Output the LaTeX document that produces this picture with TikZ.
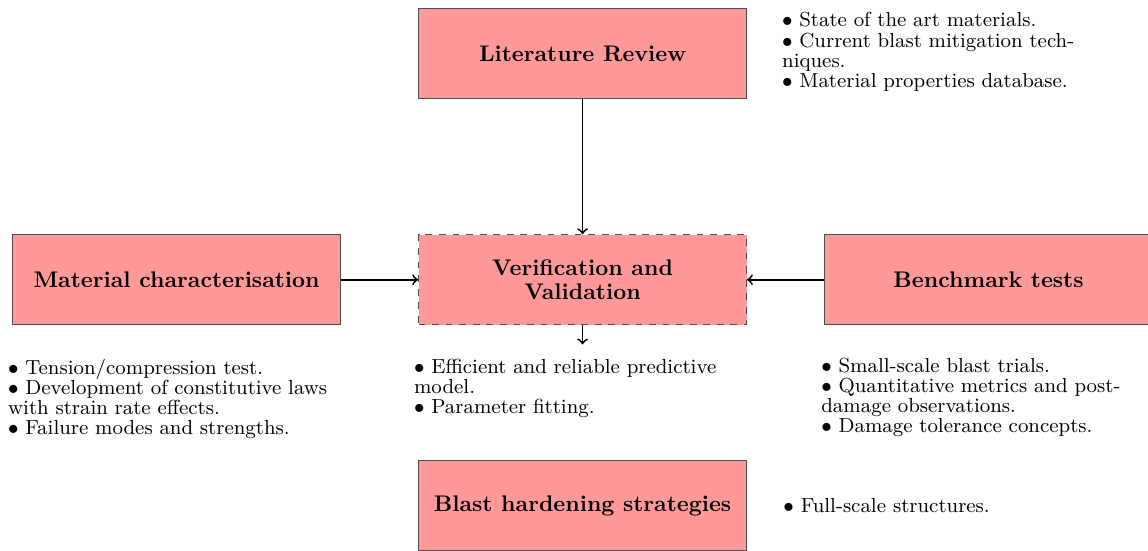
\documentclass[tikz,border=0pt]{standalone}
\usepackage{amsmath,amssymb}
\usepackage{xcolor}
\usepackage{tikz}
\usetikzlibrary{positioning}

\begin{document}
\begin{tikzpicture}[
  box/.style={draw=black!70,fill=red!40,minimum width=5.1cm,minimum height=1.4cm,align=center,font=\fontsize{10}{11}\selectfont\bfseries},
  bullets/.style={inner sep=0pt,text width=5.1cm,align=left,anchor=north west,font=\fontsize{9}{8.9}\selectfont}
]
\useasboundingbox (0,0) rectangle (17.854,-8.554);
\clip (0,0) rectangle (17.854,-8.554);

% Boxes
\node[box,dashed] (vv) at (9.06,-4.35) {Verification and\\Validation};
\node[box,above=2.1cm of vv] (lit) {Literature Review};
\node[box,left=1.2cm of vv] (mat) {Material characterisation};
\node[box,right=1.2cm of vv] (bench) {Benchmark tests};
\node[box,below=2.1cm of vv] (blast) {Blast hardening strategies};

% Bullet lists
\node[bullets] (littext) at ([xshift=0.54cm,yshift=-0.06cm]lit.north east)
  {$\bullet$ State of the art materials.\\ $\bullet$ Current blast mitigation techniques.\\ $\bullet$ Material properties database.};
\node[bullets] (mattext) at ([xshift=-0.07cm,yshift=-0.52cm]mat.south west)
  {$\bullet$ Tension/compression test.\\ $\bullet$ Development of constitutive laws with strain rate effects.\\ $\bullet$ Failure modes and strengths.};
\node[bullets] (vvtext) at ([xshift=-0.07cm,yshift=-0.52cm]vv.south west)
  {$\bullet$ Efficient and reliable predictive model.\\ $\bullet$ Parameter fitting.};
\node[bullets] (benchtext) at ([xshift=-0.05cm,yshift=-0.5cm]bench.south west)
  {$\bullet$ Small-scale blast trials.\\ $\bullet$ Quantitative metrics and post-damage observations.\\ $\bullet$ Damage tolerance concepts.};
\node[bullets,text width=,anchor=west] (blasttext) at ([xshift=0.56cm]blast.east)
  {$\bullet$ Full-scale structures.};

% Arrows
\draw[->,thick] (lit) -- (vv);
\draw[->,thick] (mat) -- (vv);
\draw[->,thick] (bench) -- (vv);
\coordinate (vvout) at ([yshift=-0.3cm]vv.south);
\draw[->,thick] (vv) -- (vvout);
\end{tikzpicture}
\end{document}
